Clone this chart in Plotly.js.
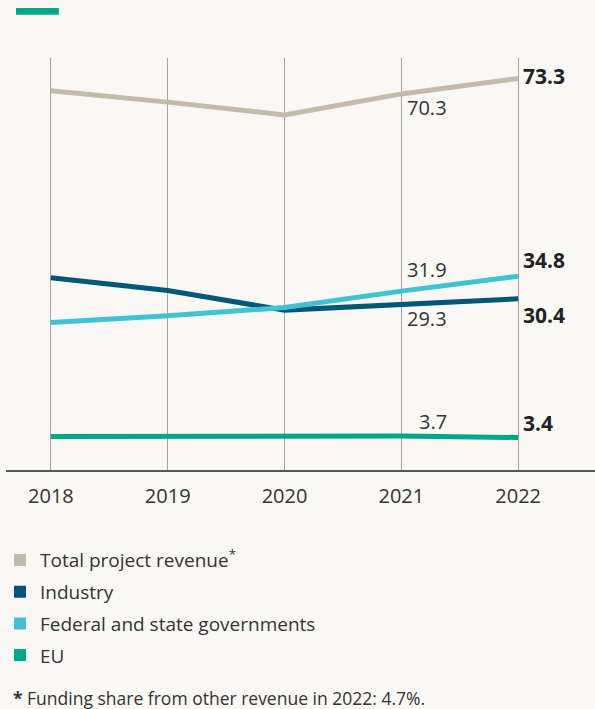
<!DOCTYPE html>
<html>
<head>
<meta charset="utf-8">
<script src="https://cdn.plot.ly/plotly-3.0.1.min.js"></script>
<style>
html,body{margin:0;padding:0;background:#f9f8f4;}
#chart{width:595px;height:709px;}
</style>
</head>
<body>
<div id="chart"></div>
<script>
// ---- data ----
const years = [2018, 2019, 2020, 2021, 2022];
const seriesNames = ["Total project revenue<sup>*</sup>", "Industry", "Federal and state governments", "EU"];
const totalRevenue = [70.9, 68.7, 66.2, 70.3, 73.3];
const industry = [34.5, 32.0, 28.2, 29.3, 30.4];
const federalState = [25.8, 27.1, 28.7, 31.9, 34.8];
const eu = [3.6, 3.6, 3.6, 3.7, 3.4];
const footnote = "<b>*</b> Funding share from other revenue in 2022: 4.7%.";

const colors = ["#c5baa9", "#02567a", "#3fc3d2", "#00a88a"];
const allSeries = [totalRevenue, industry, federalState, eu];

const FONT = "'Open Sans', 'Noto Sans', sans-serif";
const TXT = "#333333";

const traces = [];
allSeries.forEach((vals, i) => {
  traces.push({
    x: years, y: vals, type: "scatter", mode: "lines",
    line: {color: colors[i], width: 5},
    showlegend: false, hoverinfo: "skip"
  });
});
// legend entries (square markers)
seriesNames.forEach((nm, i) => {
  traces.push({
    x: [null], y: [null], type: "scatter", mode: "markers",
    name: nm, legendgroup: "g" + i,
    marker: {symbol: "square", size: 12, color: colors[i]},
    showlegend: true
  });
});

// value labels
const endShift = [2, -16, 16, 14];
const midShift = [-14, -14, 22, 14];
const annotations = [];
allSeries.forEach((vals, i) => {
  annotations.push({
    x: years[4], y: vals[4], xref: "x", yref: "y",
    text: "<b>" + vals[4].toFixed(1) + "</b>",
    showarrow: false, xanchor: "left", yanchor: "middle",
    xshift: 3, yshift: endShift[i],
    font: {family: FONT, size: 21, color: "#222222"}
  });
  annotations.push({
    x: years[3], y: vals[3], xref: "x", yref: "y",
    text: vals[3].toFixed(1),
    showarrow: false, xanchor: "right", yanchor: "middle",
    xshift: 48, yshift: midShift[i],
    font: {family: FONT, size: 20, color: TXT}
  });
});
annotations.push({
  x: 0.0085, y: -0.553, xref: "paper", yref: "paper",
  text: footnote, showarrow: false, xanchor: "left", yanchor: "middle",
  font: {family: FONT, size: 17.5, color: TXT}
});

const layout = {
  width: 595, height: 709,
  margin: {l: 5, r: 0, t: 58, b: 239},
  paper_bgcolor: "#f9f8f4",
  plot_bgcolor: "#f9f8f4",
  font: {family: FONT, color: TXT, size: 19},
  xaxis: {
    range: [2017.6154, 2022.658],
    tickvals: years, ticktext: years.map(String),
    showgrid: true, gridcolor: "#a3a3a3", gridwidth: 1,
    showline: true, linecolor: "#555555", linewidth: 1.5,
    zeroline: false, ticks: "", ticklabelstandoff: 7,
    tickfont: {family: FONT, size: 20, color: TXT},
    fixedrange: true
  },
  yaxis: {
    range: [-2.93, 77.29],
    showgrid: false, zeroline: false, showticklabels: false,
    showline: false, fixedrange: true
  },
  showlegend: true,
  legend: {
    x: -0.01, y: -0.1727, xanchor: "left", yanchor: "top",
    orientation: "v", traceorder: "grouped", tracegroupgap: 4,
    bgcolor: "rgba(0,0,0,0)",
    font: {family: FONT, size: 19, color: TXT}
  },
  shapes: [{
    type: "rect", xref: "paper", yref: "paper",
    x0: 0.01695, x1: 0.0898, y0: 1.105, y1: 1.1214,
    fillcolor: "#00a88a", line: {width: 0}
  }],
  annotations: annotations
};

Plotly.newPlot("chart", traces, layout, {displayModeBar: false, staticPlot: true});
</script>
</body>
</html>
